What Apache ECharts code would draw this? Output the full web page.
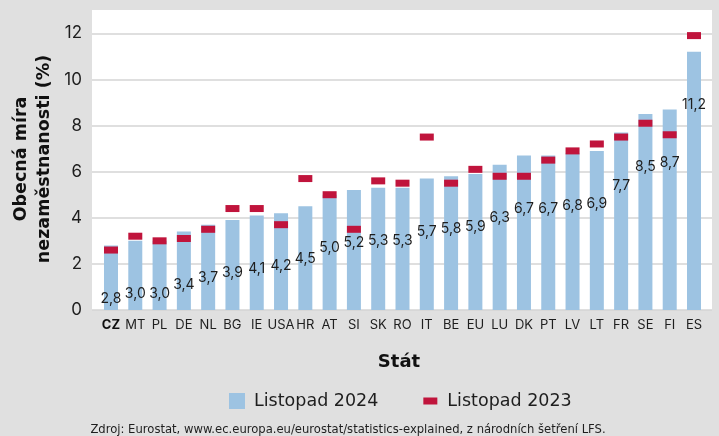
<!DOCTYPE html>
<html>
<head>
<meta charset="utf-8">
<script src="https://cdn.jsdelivr.net/npm/echarts@6/dist/echarts.min.js"></script>
<style>
  html, body { margin: 0; padding: 0; background: #e0e0e0; }
  #chart { width: 719px; height: 436px; }
</style>
</head>
<body>
<div id="chart"></div>
<script>
// státy (pořadí podle listopadu 2024)
var categories = ['CZ', 'MT', 'PL', 'DE', 'NL', 'BG', 'IE', 'USA', 'HR', 'AT', 'SI', 'SK', 'RO',
  'IT', 'BE', 'EU', 'LU', 'DK', 'PT', 'LV', 'LT', 'FR', 'SE', 'FI', 'ES']
// obecná míra nezaměstnanosti (%)
var nov2024 = [2.8, 3.0, 3.0, 3.4, 3.7, 3.9, 4.1, 4.2, 4.5, 5.0, 5.2, 5.3, 5.3,
  5.7, 5.8, 5.9, 6.3, 6.7, 6.7, 6.8, 6.9, 7.7, 8.5, 8.7, 11.2]
var nov2023 = [2.6, 3.2, 3.0, 3.1, 3.5, 4.4, 4.4, 3.7, 5.7, 5.0, 3.5, 5.6, 5.5,
  7.5, 5.5, 6.1, 5.8, 5.8, 6.5, 6.9, 7.2, 7.5, 8.1, 7.6, 11.9]
var yTicks = [0, 2, 4, 6, 8, 10, 12]

var FONT = 'Inter'
var WIDE = '"DejaVu Sans"'
var TXT = '#1e1e1e'

var myChart = echarts.init(document.getElementById('chart'))

var option = {
  backgroundColor: '#e0e0e0',
  textStyle: { fontFamily: FONT },
  graphic: {
    elements: [
      // bílý panel grafu
      { type: 'rect', z: -10, shape: { x: 92, y: 10, width: 620, height: 300 }, style: { fill: '#ffffff' } },
      {
        type: 'text', x: 33, y: 159, rotation: Math.PI / 2,
        style: {
          text: 'Obecná míra\nnezaměstnanosti (%)', fontFamily: WIDE, fontWeight: 'bold', fontSize: 17.5,
          lineHeight: 23, fill: '#111', align: 'center', verticalAlign: 'middle'
        }
      },
      {
        type: 'text', x: 399, y: 362,
        style: { text: 'Stát', fontFamily: WIDE, fontWeight: 'bold', fontSize: 18, fill: '#111', align: 'center', verticalAlign: 'middle' }
      },
      {
        type: 'text', x: 348, y: 430,
        style: {
          text: 'Zdroj: Eurostat, www.ec.europa.eu/eurostat/statistics-explained, z národních šetření LFS.',
          fontFamily: WIDE, fontSize: 11.6, fill: TXT, align: 'center', verticalAlign: 'middle'
        }
      }
    ]
  },
  legend: {
    left: 224,
    top: 387,
    itemWidth: 16,
    itemHeight: 16,
    itemGap: 44,
    textStyle: { fontFamily: WIDE, fontSize: 17.5, color: TXT, padding: [0, 0, 0, 4] },
    data: [
      { name: 'Listopad 2024', icon: 'rect' },
      { name: 'Listopad 2023', icon: 'path://M0,0L0,0M16,16L16,16M1,4.5L15,4.5L15,11.5L1,11.5Z' }
    ]
  },
  grid: [
    // mřížka a popisky osy y
    { left: 92, right: 7, top: 33.3, bottom: 126 },
    // sloupce
    { left: 98.85, right: 12.85, top: 33.3, bottom: 126 }
  ],
  xAxis: [
    { gridIndex: 0, type: 'value', show: false },
    {
      gridIndex: 1,
      type: 'category',
      data: categories,
      axisLine: { show: false },
      axisTick: { show: false },
      axisLabel: {
        margin: 9,
        fontFamily: FONT,
        fontSize: 13,
        color: TXT,
        interval: 0,
        formatter: function (v) { return v === 'CZ' ? '{b|' + v + '}' : v },
        rich: { b: { fontWeight: 'bold', fontSize: 13, fontFamily: FONT, color: '#111' } }
      }
    }
  ],
  yAxis: [
    {
      gridIndex: 0,
      type: 'value',
      min: yTicks[0],
      max: yTicks[yTicks.length - 1],
      interval: 2,
      axisLine: { show: false },
      axisTick: { show: false },
      axisLabel: { margin: 10, fontFamily: FONT, fontSize: 17, color: TXT },
      splitLine: { lineStyle: { color: '#d4d4d4', width: 1.5 } }
    },
    {
      gridIndex: 1,
      type: 'value',
      min: yTicks[0],
      max: yTicks[yTicks.length - 1],
      show: false,
      splitLine: { show: false }
    }
  ],
  series: [
    {
      name: 'Listopad 2024',
      type: 'bar',
      xAxisIndex: 1,
      yAxisIndex: 1,
      barWidth: 14,
      itemStyle: { color: '#9dc3e2' },
      label: {
        show: true,
        position: 'insideTop',
        distance: 46,
        fontFamily: FONT,
        fontSize: 14,
        color: TXT,
        formatter: function (p) { return p.value.toFixed(1).replace('.', ',') }
      },
      data: nov2024
    },
    {
      name: 'Listopad 2023',
      type: 'scatter',
      xAxisIndex: 1,
      yAxisIndex: 1,
      symbol: 'rect',
      symbolSize: [14, 7],
      z: 5,
      itemStyle: { color: '#c0143c', opacity: 1 },
      data: nov2023
    }
  ]
}

myChart.setOption(option)
</script>
</body>
</html>
